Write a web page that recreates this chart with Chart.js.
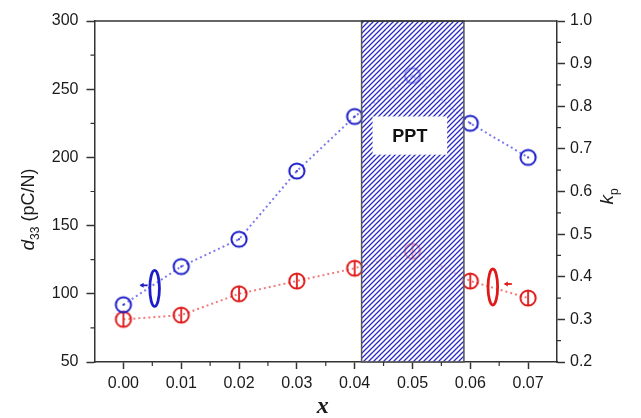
<!DOCTYPE html>
<html>
<head>
<meta charset="utf-8">
<script src="https://cdn.jsdelivr.net/npm/chart.js@4/dist/chart.umd.min.js"></script>
<style>
  html, body { margin: 0; padding: 0; background: #fff; }
  #wrap { width: 641px; height: 418px; }
</style>
</head>
<body>
<div id="wrap"><canvas id="c" width="641" height="418"></canvas></div>
<script>
// ---- data ----
const xValues = [0.00, 0.01, 0.02, 0.03, 0.04, 0.05, 0.06, 0.07];
const d33Values = [92, 120, 140, 190, 230, 260, 225, 200];          // pC/N, left axis
const kpValues = [0.30, 0.31, 0.36, 0.39, 0.42, 0.46, 0.39, 0.35];  // right axis
const xTicks = [0.00, 0.01, 0.02, 0.03, 0.04, 0.05, 0.06, 0.07];
const xMinor = [0.005, 0.015, 0.025, 0.035, 0.045, 0.055, 0.065];
const d33Ticks = [50, 100, 150, 200, 250, 300];
const d33Minor = [75, 125, 175, 225, 275];
const kpTicks = [0.2, 0.3, 0.4, 0.5, 0.6, 0.7, 0.8, 0.9, 1.0];
const kpMinor = [0.25, 0.35, 0.45, 0.55, 0.65, 0.75, 0.85, 0.95];
const pptRange = [0.0412, 0.0589];   // hatched PPT band on x

const BLUE = '#1c1cc8';
const RED = '#e01818';
const AXIS = '#333';
const FONT = '"Liberation Sans", Arial, sans-serif';

// marker images
function makeMarker(color, inner) {
    const c = document.createElement('canvas');
    c.width = 20; c.height = 20;
    const g = c.getContext('2d');
    g.strokeStyle = color;
    g.lineWidth = 2;
    g.beginPath();
    g.arc(10, 10, 7.6, 0, Math.PI * 2);
    g.stroke();
    if (inner === 'dot') {
        g.fillStyle = color;
        g.beginPath();
        g.arc(10, 10, 1.1, 0, Math.PI * 2);
        g.fill();
    } else {
        g.lineWidth = 1.8;
        g.beginPath();
        g.moveTo(10, 3);
        g.lineTo(10, 17);
        g.stroke();
    }
    return c;
}

function makeHatch() {
    const c = document.createElement('canvas');
    c.width = 5; c.height = 5;
    const g = c.getContext('2d');
    g.strokeStyle = '#2b2bc4';
    g.lineWidth = 1.3;
    g.beginPath();
    g.moveTo(-1, 6); g.lineTo(6, -1);
    g.moveTo(-1, 1); g.lineTo(1, -1);
    g.moveTo(4, 6); g.lineTo(6, 4);
    g.stroke();
    return c;
}

const decorPlugin = {
    id: 'decor',
    afterDatasetsDraw(chart) {
        const ctx = chart.ctx;
        const { left, right, top, bottom } = chart.chartArea;
        const x = chart.scales.x, y = chart.scales.y;

        // PPT hatched band
        const bx0 = x.getPixelForValue(pptRange[0]);
        const bx1 = x.getPixelForValue(pptRange[1]);
        ctx.save();
        ctx.fillStyle = 'rgba(255,255,255,0.55)';
        ctx.fillRect(bx0, top, bx1 - bx0, bottom - top);
        ctx.fillStyle = ctx.createPattern(makeHatch(), 'repeat');
        ctx.fillRect(bx0, top, bx1 - bx0, bottom - top);
        ctx.strokeStyle = '#555';
        ctx.lineWidth = 1.5;
        ctx.strokeRect(bx0, top, bx1 - bx0, bottom - top);

        // PPT label box
        const px0 = x.getPixelForValue(0.0431), px1 = x.getPixelForValue(0.0560);
        const py0 = y.getPixelForValue(230), py1 = y.getPixelForValue(202);
        ctx.fillStyle = '#fff';
        ctx.fillRect(px0, py0, px1 - px0, py1 - py0);
        ctx.fillStyle = '#111';
        ctx.font = 'bold 18px ' + FONT;
        ctx.textAlign = 'center';
        ctx.textBaseline = 'middle';
        ctx.fillText('PPT', (px0 + px1) / 2, (py0 + py1) / 2 + 1);

        // axis-indicator ellipses with small arrows
        const drawEllipse = (xv, yv, color, arrowSide) => {
            const cx = x.getPixelForValue(xv), cy = y.getPixelForValue(yv);
            ctx.strokeStyle = color;
            ctx.lineWidth = 2.8;
            ctx.beginPath();
            ctx.ellipse(cx, cy, 4.8, 18, 0, 0, Math.PI * 2);
            ctx.stroke();
            ctx.fillStyle = color;
            const ax = arrowSide < 0 ? cx - 14 : cx + 12;
            ctx.lineWidth = 1.8;
            ctx.beginPath();
            ctx.moveTo(ax, cy - 3);
            ctx.lineTo(ax + 7, cy - 3);
            ctx.stroke();
            ctx.beginPath();
            ctx.moveTo(ax - 1, cy - 3);
            ctx.lineTo(ax + 3, cy - 5.5);
            ctx.lineTo(ax + 3, cy - 0.5);
            ctx.closePath();
            ctx.fill();
        };
        drawEllipse(0.0054, 104, BLUE, -1);
        drawEllipse(0.0639, 105, RED, 1);
        ctx.restore();
    },
    afterDraw(chart) {
        const ctx = chart.ctx;
        const { left, right, top, bottom } = chart.chartArea;
        const x = chart.scales.x, y = chart.scales.y, y2 = chart.scales.y2;
        ctx.save();
        ctx.strokeStyle = AXIS;
        ctx.lineWidth = 1.5;

        // frame top line
        ctx.beginPath();
        ctx.moveTo(left, top); ctx.lineTo(right, top);
        ctx.stroke();

        // minor ticks
        ctx.lineWidth = 1.2;
        ctx.beginPath();
        xMinor.forEach(v => {
            const p = x.getPixelForValue(v);
            ctx.moveTo(p, bottom); ctx.lineTo(p, bottom + 4);
        });
        d33Minor.forEach(v => {
            const p = y.getPixelForValue(v);
            ctx.moveTo(left, p); ctx.lineTo(left - 4, p);
        });
        kpMinor.forEach(v => {
            const p = y2.getPixelForValue(v);
            ctx.moveTo(right, p); ctx.lineTo(right + 4, p);
        });
        ctx.stroke();

        // axis titles
        ctx.fillStyle = '#1a1a1a';
        ctx.textBaseline = 'alphabetic';

        // left: d33 (pC/N)
        ctx.save();
        ctx.translate(left - 61, (top + bottom) / 2 + 18);
        ctx.rotate(-Math.PI / 2);
        ctx.textAlign = 'left';
        let parts = [
            { t: 'd', f: 'italic 19px ' + FONT, dy: 0 },
            { t: '33', f: '12px ' + FONT, dy: 5 },
            { t: ' (pC/N)', f: '18px ' + FONT, dy: 0 }
        ];
        let w = 0;
        parts.forEach(p => { ctx.font = p.f; w += ctx.measureText(p.t).width; });
        let cx = -w / 2;
        parts.forEach(p => {
            ctx.font = p.f;
            ctx.fillText(p.t, cx, p.dy);
            cx += ctx.measureText(p.t).width;
        });
        ctx.restore();

        // right: kp
        ctx.save();
        ctx.translate(right + 56, (top + bottom) / 2 + 5);
        ctx.rotate(-Math.PI / 2);
        ctx.font = 'italic 19px ' + FONT;
        ctx.fillText('k', -8, 0);
        const kw = ctx.measureText('k').width;
        ctx.font = '12px ' + FONT;
        ctx.fillText('p', -8 + kw, 5);
        ctx.restore();

        // bottom: x
        ctx.font = 'italic bold 24px "Liberation Serif", "Times New Roman", serif';
        ctx.textAlign = 'center';
        ctx.fillText('x', (left + right) / 2 - 3, bottom + 51);
        ctx.restore();
    }
};

const tickFont = { family: FONT, size: 16 };

new Chart(document.getElementById('c'), {
    type: 'line',
    data: {
        datasets: [{
            label: 'd33',
            data: xValues.map((v, i) => ({ x: v, y: d33Values[i] })),
            yAxisID: 'y',
            borderColor: '#7c7cf0',
            borderWidth: 2,
            borderDash: [2, 3],
            pointStyle: makeMarker(BLUE, 'dot'),
            pointRadius: 9,
            fill: false,
            tension: 0
        }, {
            label: 'kp',
            data: xValues.map((v, i) => ({ x: v, y: kpValues[i] })),
            yAxisID: 'y2',
            borderColor: '#f07c7c',
            borderWidth: 2,
            borderDash: [2, 3],
            pointStyle: makeMarker(RED, 'bar'),
            pointRadius: 9,
            fill: false,
            tension: 0
        }]
    },
    options: {
        responsive: false,
        animation: false,
        events: [],
        layout: { padding: { top: 21, left: 0, right: 0, bottom: 0 } },
        plugins: {
            legend: { display: false },
            tooltip: { enabled: false }
        },
        scales: {
            x: {
                type: 'linear',
                min: -0.005,
                max: 0.075,
                afterBuildTicks: s => { s.ticks = xTicks.map(v => ({ value: v })); },
                afterFit: s => { s.height = 56; },
                border: { display: true, color: AXIS, width: 1.5 },
                grid: { drawOnChartArea: false, drawTicks: true, tickLength: 7, tickWidth: 1.5, tickColor: AXIS },
                ticks: {
                    font: tickFont, color: '#1a1a1a', padding: 5, maxRotation: 0,
                    callback: v => v.toFixed(2)
                }
            },
            y: {
                type: 'linear',
                position: 'left',
                min: 50,
                max: 300,
                afterBuildTicks: s => { s.ticks = d33Ticks.map(v => ({ value: v })); },
                afterFit: s => { s.width = 94.5; },
                border: { display: true, color: AXIS, width: 1.5 },
                grid: { drawOnChartArea: false, drawTicks: true, tickLength: 8, tickWidth: 1.5, tickColor: AXIS },
                ticks: { font: tickFont, color: '#1a1a1a', padding: 8 }
            },
            y2: {
                type: 'linear',
                position: 'right',
                min: 0.2,
                max: 1.0,
                afterBuildTicks: s => { s.ticks = kpTicks.map(v => ({ value: v })); },
                afterFit: s => { s.width = 84; },
                border: { display: true, color: AXIS, width: 1.5 },
                grid: { drawOnChartArea: false, drawTicks: true, tickLength: 8, tickWidth: 1.5, tickColor: AXIS },
                ticks: {
                    font: tickFont, color: '#1a1a1a', padding: 5,
                    callback: v => v.toFixed(1)
                }
            }
        }
    },
    plugins: [decorPlugin]
});
</script>
</body>
</html>
